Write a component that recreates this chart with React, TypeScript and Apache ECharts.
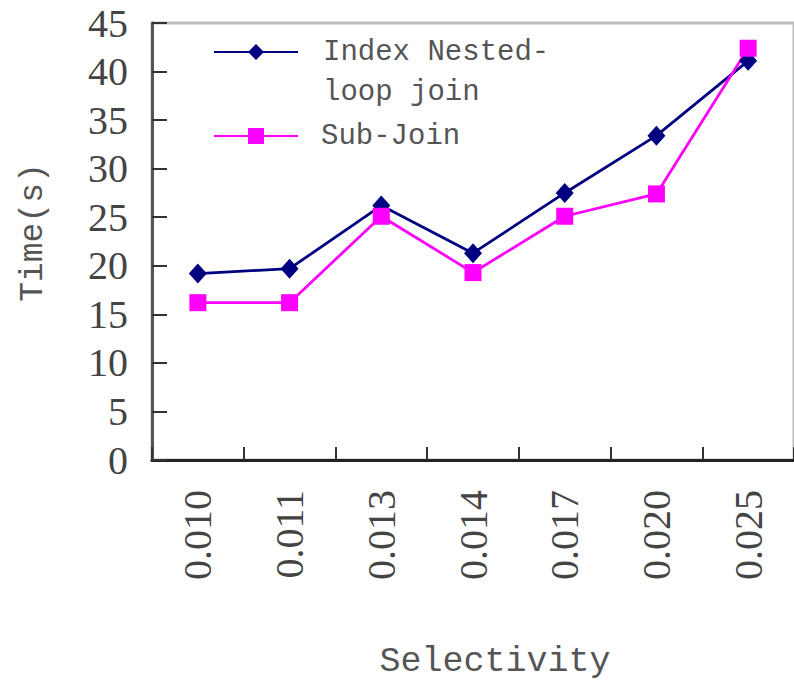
import React, { useEffect, useRef } from "react";
import * as echarts from "echarts";

const categories = ["0.010", "0.011", "0.013", "0.014", "0.017", "0.020", "0.025"];
const seriesNames = ["Index Nested-loop join", "Sub-Join"];
const legendLabels = ["\nIndex Nested-\nloop join", "Sub-Join"];
const inljValues = [19.2, 19.7, 26.2, 21.3, 27.5, 33.4, 41.1];
const subJoinValues = [16.2, 16.2, 25.1, 19.3, 25.1, 27.4, 42.4];
const yMin = 0;
const yMax = 45;
const yInterval = 5;
const xTitle = "Selectivity";
const yTitle = "Time(s)";

const MONO = '"Liberation Mono", "DejaVu Sans Mono", monospace';
const SERIF = '"Liberation Serif", "DejaVu Serif", serif';

export default function App() {
  const ref = useRef<HTMLDivElement>(null);
  useEffect(() => {
    if (!ref.current) return;
    const chart = echarts.init(ref.current, undefined, { renderer: "svg" });
    chart.setOption({
      animation: false,
      backgroundColor: "#ffffff",
      grid: {
        left: 152,
        right: -6,
        top: 23,
        bottom: 220,
        show: true,
        borderColor: "#bdbdbd",
        borderWidth: 3,
        backgroundColor: "transparent",
      },
      legend: {
        orient: "vertical",
        left: 213,
        top: -8,
        padding: 0,
        itemGap: 4,
        itemWidth: 84,
        itemHeight: 20,
        formatter: (name: string) => legendLabels[seriesNames.indexOf(name)] ?? name,
        textStyle: {
          fontFamily: MONO,
          fontSize: 29,
          lineHeight: 40,
          color: "#555555",
        },
        data: [
          { name: seriesNames[0], textStyle: { padding: [0, 0, 0, 20] } },
          { name: seriesNames[1], textStyle: { padding: [0, 0, 0, 18] } },
        ],
      },
      xAxis: {
        type: "category",
        data: categories,
        boundaryGap: true,
        name: xTitle,
        nameLocation: "middle",
        nameGap: 184,
        nameTextStyle: {
          fontFamily: MONO,
          fontSize: 35,
          color: "#555555",
          padding: [0, 0, 0, 44],
        },
        axisLine: { show: true, lineStyle: { color: "#222222", width: 3 } },
        axisTick: {
          show: true,
          inside: true,
          length: 13,
          interval: 0,
          lineStyle: { color: "#333333", width: 2 },
        },
        axisLabel: {
          rotate: 90,
          margin: 30,
          interval: 0,
          fontFamily: SERIF,
          fontSize: 40,
          color: "#444444",
        },
        splitLine: { show: false },
      },
      yAxis: {
        type: "value",
        min: yMin,
        max: yMax,
        interval: yInterval,
        name: yTitle,
        nameLocation: "middle",
        nameRotate: 90,
        nameGap: 102,
        nameTextStyle: {
          fontFamily: MONO,
          fontSize: 33,
          color: "#555555",
          padding: [0, 0, 0, 18],
        },
        axisLine: { show: true, lineStyle: { color: "#555555", width: 3 } },
        axisTick: {
          show: true,
          inside: true,
          length: 15,
          lineStyle: { color: "#333333", width: 2 },
        },
        axisLabel: {
          margin: 24,
          fontFamily: SERIF,
          fontSize: 40,
          color: "#444444",
          padding: [14, 0, 0, 0],
        },
        splitLine: { show: false },
      },
      series: [
        {
          name: seriesNames[0],
          type: "line",
          data: inljValues,
          symbol: "diamond",
          symbolSize: [18, 20],
          showAllSymbol: true,
          lineStyle: { color: "#000080", width: 2.8 },
          itemStyle: { color: "#000080" },
        },
        {
          name: seriesNames[1],
          type: "line",
          data: subJoinValues,
          symbol: "rect",
          symbolSize: 17,
          showAllSymbol: true,
          lineStyle: { color: "#ff00ff", width: 2.8 },
          itemStyle: { color: "#ff00ff" },
        },
      ],
    });
    return () => chart.dispose();
  }, []);
  return (
    <div
      ref={ref}
      style={{ position: "absolute", left: 0, top: 0, width: 794, height: 684 }}
    />
  );
}
